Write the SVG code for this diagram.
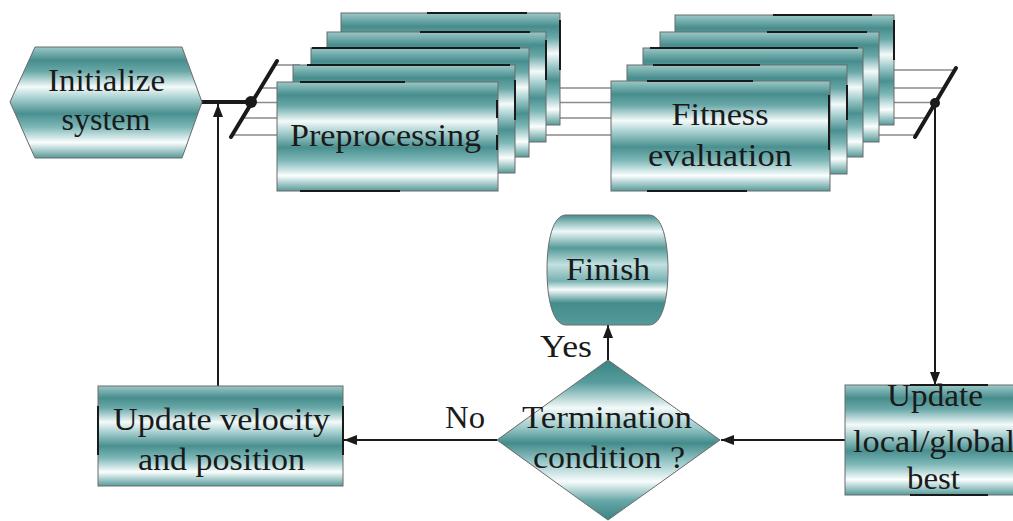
<svg xmlns="http://www.w3.org/2000/svg" width="1013" height="521" viewBox="0 0 1013 521" font-family="Liberation Serif, Times New Roman, Tinos, Noto Serif, DejaVu Serif, serif">
<defs>
<linearGradient id="g" x1="0" y1="0" x2="0" y2="1">
<stop offset="0" stop-color="#9cc8c8"/>
<stop offset="0.12" stop-color="#478d8d"/>
<stop offset="0.22" stop-color="#6aa8a8"/>
<stop offset="0.36" stop-color="#f4fafa"/>
<stop offset="0.46" stop-color="#a8d0d0"/>
<stop offset="0.6" stop-color="#4a9090"/>
<stop offset="0.72" stop-color="#7db7b7"/>
<stop offset="0.86" stop-color="#fbfefe"/>
<stop offset="1" stop-color="#569a9a"/>
</linearGradient>
<linearGradient id="gd" x1="0" y1="0" x2="0" y2="1">
<stop offset="0" stop-color="#3a8383"/>
<stop offset="0.14" stop-color="#569c9c"/>
<stop offset="0.3" stop-color="#f4fafa"/>
<stop offset="0.42" stop-color="#9ccaca"/>
<stop offset="0.52" stop-color="#438b8b"/>
<stop offset="0.64" stop-color="#9ccaca"/>
<stop offset="0.76" stop-color="#f8fcfc"/>
<stop offset="0.88" stop-color="#66a6a6"/>
<stop offset="1" stop-color="#3a8383"/>
</linearGradient>
<linearGradient id="gf" x1="0" y1="0" x2="0" y2="1">
<stop offset="0" stop-color="#448c8c"/>
<stop offset="0.15" stop-color="#eef8f8"/>
<stop offset="0.3" stop-color="#569a9a"/>
<stop offset="0.45" stop-color="#c2e0e0"/>
<stop offset="0.6" stop-color="#78b2b2"/>
<stop offset="0.68" stop-color="#f6fbfb"/>
<stop offset="0.8" stop-color="#448c8c"/>
<stop offset="1" stop-color="#569a9a"/>
</linearGradient>
<marker id="ah" markerUnits="userSpaceOnUse" markerWidth="14" markerHeight="12" refX="13" refY="5" orient="auto">
<path d="M0,0 L13,5 L0,10 z" fill="#1a1a1a"/>
</marker>
</defs>
<style>
.box{fill:url(#g);stroke:#6a6a6a;stroke-width:1}
.t{font-size:32px;fill:#1a1a1a;text-anchor:middle}
.conn{stroke:#1a1a1a;stroke-width:2;fill:none}
.thin{stroke:#8a8a8a;stroke-width:1.5;fill:none}
.bar{stroke:#1a1a1a;stroke-width:4;stroke-linecap:round}
.edge{stroke:#1a1a1a;stroke-width:2}
</style>

<g id="connectors">
<line class="thin" x1="274" y1="65" x2="300" y2="65"/>
<line class="thin" x1="260" y1="88" x2="945" y2="88"/>
<line class="thin" x1="251" y1="102.5" x2="935" y2="102.5"/>
<line class="thin" x1="242" y1="118" x2="926" y2="118"/>
<line class="thin" x1="231" y1="135" x2="916" y2="135"/>
<line class="thin" x1="880" y1="70" x2="955" y2="70"/>
<line x1="202" y1="102" x2="251" y2="102" stroke="#1a1a1a" stroke-width="4"/>
<line class="bar" x1="231" y1="137" x2="277" y2="61"/>
<circle cx="251" cy="102" r="6" fill="#1a1a1a"/>
<line class="bar" x1="915" y1="137" x2="956" y2="68"/>
<circle cx="935" cy="103" r="5" fill="#1a1a1a"/>
<line class="conn" x1="935" y1="103" x2="935" y2="385" marker-end="url(#ah)"/>
<line class="conn" x1="845" y1="440" x2="721" y2="440" marker-end="url(#ah)"/>
<line class="conn" x1="497" y1="440" x2="344" y2="440" marker-end="url(#ah)"/>
<line class="conn" x1="608" y1="360" x2="608" y2="325" marker-end="url(#ah)"/>
<line class="conn" x1="218" y1="386" x2="218" y2="104" marker-end="url(#ah)"/>
<text class="t" x="566" y="357" font-size="30" textLength="52" lengthAdjust="spacingAndGlyphs">Yes</text>
<text class="t" x="465" y="428" font-size="30" textLength="40" lengthAdjust="spacingAndGlyphs">No</text>
</g>

<g id="init">
<polygon points="10,102 35,47 182,47 202,102 182,158 35,158" class="box"/>
<text class="t" x="106.5" y="91" textLength="117" lengthAdjust="spacingAndGlyphs">Initialize</text>
<text class="t" x="106" y="130" textLength="89" lengthAdjust="spacingAndGlyphs">system</text>
</g>

<g id="preprocessing">
<rect class="box" x="341" y="13" width="219" height="112"/>
<line class="edge" x1="427" y1="13" x2="527" y2="13"/>
<line class="edge" x1="560" y1="20" x2="560" y2="70"/>
<rect class="box" x="327" y="32" width="219" height="110"/>
<line class="edge" x1="420" y1="32" x2="530" y2="32"/>
<line class="edge" x1="546" y1="40" x2="546" y2="80"/>
<rect class="box" x="311" y="48" width="218" height="109"/>
<line class="edge" x1="312" y1="48" x2="520" y2="48"/>
<rect class="box" x="293" y="65" width="222" height="108"/>
<line class="edge" x1="307" y1="65" x2="510" y2="65"/>
<line class="edge" x1="515" y1="80" x2="515" y2="120"/>
<rect class="box" x="277" y="82" width="221" height="109"/>
<line class="edge" x1="300" y1="82" x2="405" y2="82"/>
<line class="edge" x1="300" y1="191" x2="400" y2="191"/>
<line class="edge" x1="497" y1="100" x2="497" y2="118"/>
<line class="edge" x1="497" y1="135" x2="497" y2="150"/>
<text class="t" x="385.5" y="146" textLength="191" lengthAdjust="spacingAndGlyphs">Preprocessing</text>
</g>

<g id="fitness">
<rect class="box" x="675" y="15" width="219" height="110"/>
<line class="edge" x1="773" y1="15" x2="872" y2="15"/>
<line class="edge" x1="894" y1="20" x2="894" y2="60"/>
<rect class="box" x="660" y="32" width="219" height="110"/>
<line class="edge" x1="767" y1="32" x2="867" y2="32"/>
<rect class="box" x="643" y="48" width="220" height="109"/>
<line class="edge" x1="650" y1="48" x2="858" y2="48"/>
<rect class="box" x="627" y="65" width="220" height="109"/>
<line class="edge" x1="653" y1="65" x2="760" y2="65"/>
<line class="edge" x1="847" y1="85" x2="847" y2="120"/>
<rect class="box" x="611" y="81" width="219" height="110"/>
<line class="edge" x1="647" y1="81" x2="753" y2="81"/>
<line class="edge" x1="647" y1="191" x2="747" y2="191"/>
<line class="edge" x1="829" y1="95" x2="829" y2="150"/>
<text class="t" x="720" y="125" textLength="97" lengthAdjust="spacingAndGlyphs">Fitness</text>
<text class="t" x="720" y="166" textLength="144" lengthAdjust="spacingAndGlyphs">evaluation</text>
</g>

<g id="finish">
<path class="box" style="fill:url(#gf)" d="M566,215 H649 C662,215 668,240 668,270 C668,300 662,325 649,325 H566 C553,325 547,300 547,270 C547,240 553,215 566,215 Z"/>
<text class="t" x="608" y="280" textLength="84" lengthAdjust="spacingAndGlyphs">Finish</text>
</g>

<g id="termination">
<polygon class="box" style="fill:url(#gd)" points="608,360 720,440 608,520 497,440"/>
<text class="t" x="607" y="428" textLength="170" lengthAdjust="spacingAndGlyphs">Termination</text>
<text class="t" x="609" y="468" textLength="152" lengthAdjust="spacingAndGlyphs">condition ?</text>
</g>

<g id="update-velocity">
<rect class="box" x="98" y="386" width="245" height="100"/>
<line class="edge" x1="98" y1="406" x2="98" y2="455"/>
<line class="edge" x1="343" y1="406" x2="343" y2="455"/>
<text class="t" x="221.5" y="430" textLength="217" lengthAdjust="spacingAndGlyphs">Update velocity</text>
<text class="t" x="221.5" y="470" textLength="167" lengthAdjust="spacingAndGlyphs">and position</text>
</g>

<g id="update-best">
<rect class="box" x="845" y="385" width="180" height="110"/>
<line class="edge" x1="910" y1="385" x2="988" y2="385"/>
<line class="edge" x1="910" y1="495" x2="988" y2="495"/>
<text class="t" x="935" y="406" textLength="96" lengthAdjust="spacingAndGlyphs">Update</text>
<text class="t" x="934" y="452" textLength="162" lengthAdjust="spacingAndGlyphs">local/global</text>
<text class="t" x="933.5" y="489" textLength="53" lengthAdjust="spacingAndGlyphs">best</text>
</g>
</svg>
